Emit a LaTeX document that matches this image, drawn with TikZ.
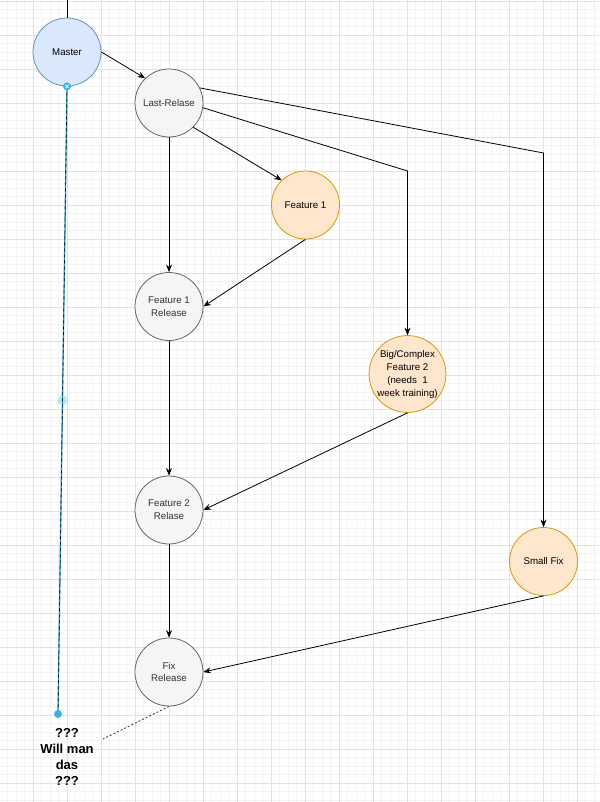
\documentclass[tikz,border=0pt]{standalone}
\usepackage{fontspec}
\setmainfont{Liberation Sans}
\usetikzlibrary{arrows.meta,calc}

\definecolor{gridmin}{HTML}{F4F4F4}
\definecolor{gridmaj}{HTML}{E2E2E2}
\definecolor{relfill}{HTML}{F5F5F5}
\definecolor{reldraw}{HTML}{666666}
\definecolor{featfill}{HTML}{FFE6CC}
\definecolor{featdraw}{HTML}{D79B00}
\definecolor{mastfill}{HTML}{DAE8FC}
\definecolor{mastdraw}{HTML}{6C8EBF}
\definecolor{selblue}{HTML}{29B6F2}

\begin{document}
\begin{tikzpicture}[x=1pt, y=-1pt, >={Stealth[length=7.5pt,width=6pt]},
  node/.style={circle, minimum size=68pt, inner sep=0pt, align=center, line width=0.8pt, font=\fontsize{9.7}{12.8}\selectfont},
  rel/.style={node, draw=reldraw, fill=relfill, text=black!80},
  feat/.style={node, draw=featdraw, fill=featfill},
  mast/.style={node, draw=mastdraw, fill=mastfill},
  edge/.style={line width=0.8pt}]
\useasboundingbox (0,0) rectangle (599,802);
\fill[white] (0,0) rectangle (599,802);
% grid
\begin{scope}
\clip (0,0) rectangle (599,802);
\draw[gridmin, line width=0.7pt, step=8.5pt, shift={(-1,1)}] (-40,-40) grid (680,880);
\draw[gridmaj, line width=0.8pt, step=34pt, shift={(-1,1)}] (-40,-40) grid (680,880);
\end{scope}

\node[mast] (M) at (67,52) {Master};
\node[rel] (L) at (169,103) {Last-Relase};
\node[feat] (F1) at (305.5,205) {Feature 1};
\node[rel] (R1) at (169,306.5) {Feature 1\\Release};
\node[feat, font=\fontsize{9.7}{13}\selectfont] (F2) at (407.5,374) {Big/Complex\\Feature 2\\(needs~ 1\\week training)};
\node[rel] (R2) at (169,510) {Feature 2\\Relase};
\node[feat] (S) at (543.5,561.5) {Small Fix};
\node[rel] (R3) at (169,672) {Fix\\Release};
\node[font=\fontsize{13}{16}\selectfont\bfseries, align=center] (Q) at (67,757) {???\\Will man\\das\\???};

\coordinate (top) at (67,-2);
\coordinate (b1) at (407.5,171);
\coordinate (b2) at (543.5,153);
\coordinate (qend) at (58,714);
\coordinate (qdot) at (103,739);

\draw[edge] (top) -- (M.north);
\draw[edge,->] (M.east) -- (L.134);
\draw[edge,->] (L.26) -- (b2) -- (S.north);
\draw[edge,->] (L.-8) -- (b1) -- (F2.north);
\draw[edge,->] (L.-45) -- (F1.134);
\draw[edge,->] (L.south) -- (R1.north);
\draw[edge,->] (F1.south) -- (R1.east);
\draw[edge,->] (R1.south) -- (R2.north);
\draw[edge,->] (F2.south) -- (R2.east);
\draw[edge,->] (R2.south) -- (R3.north);
\draw[edge,->] (S.south) -- (R3.east);
\draw[edge, black!80, dash pattern=on 2pt off 2pt] (R3.south) -- (qdot);

% selected edge
\draw[selblue!80!black, line width=1.3pt] (M.south) -- (qend);
\draw[black, line width=0.6pt, dash pattern=on 3pt off 3pt] (M.south) -- (qend);
\fill[selblue, opacity=0.3] ($(M.south)!0.5!(qend)$) circle (5pt);
\fill[selblue] (qend) circle (4pt);
\fill[selblue] (M.south) circle (4pt);
\draw[white, line width=0.8pt] ($(M.south)+(-1.8,-1.8)$) -- ($(M.south)+(1.8,1.8)$)
  ($(M.south)+(-1.8,1.8)$) -- ($(M.south)+(1.8,-1.8)$);
\end{tikzpicture}
\end{document}
